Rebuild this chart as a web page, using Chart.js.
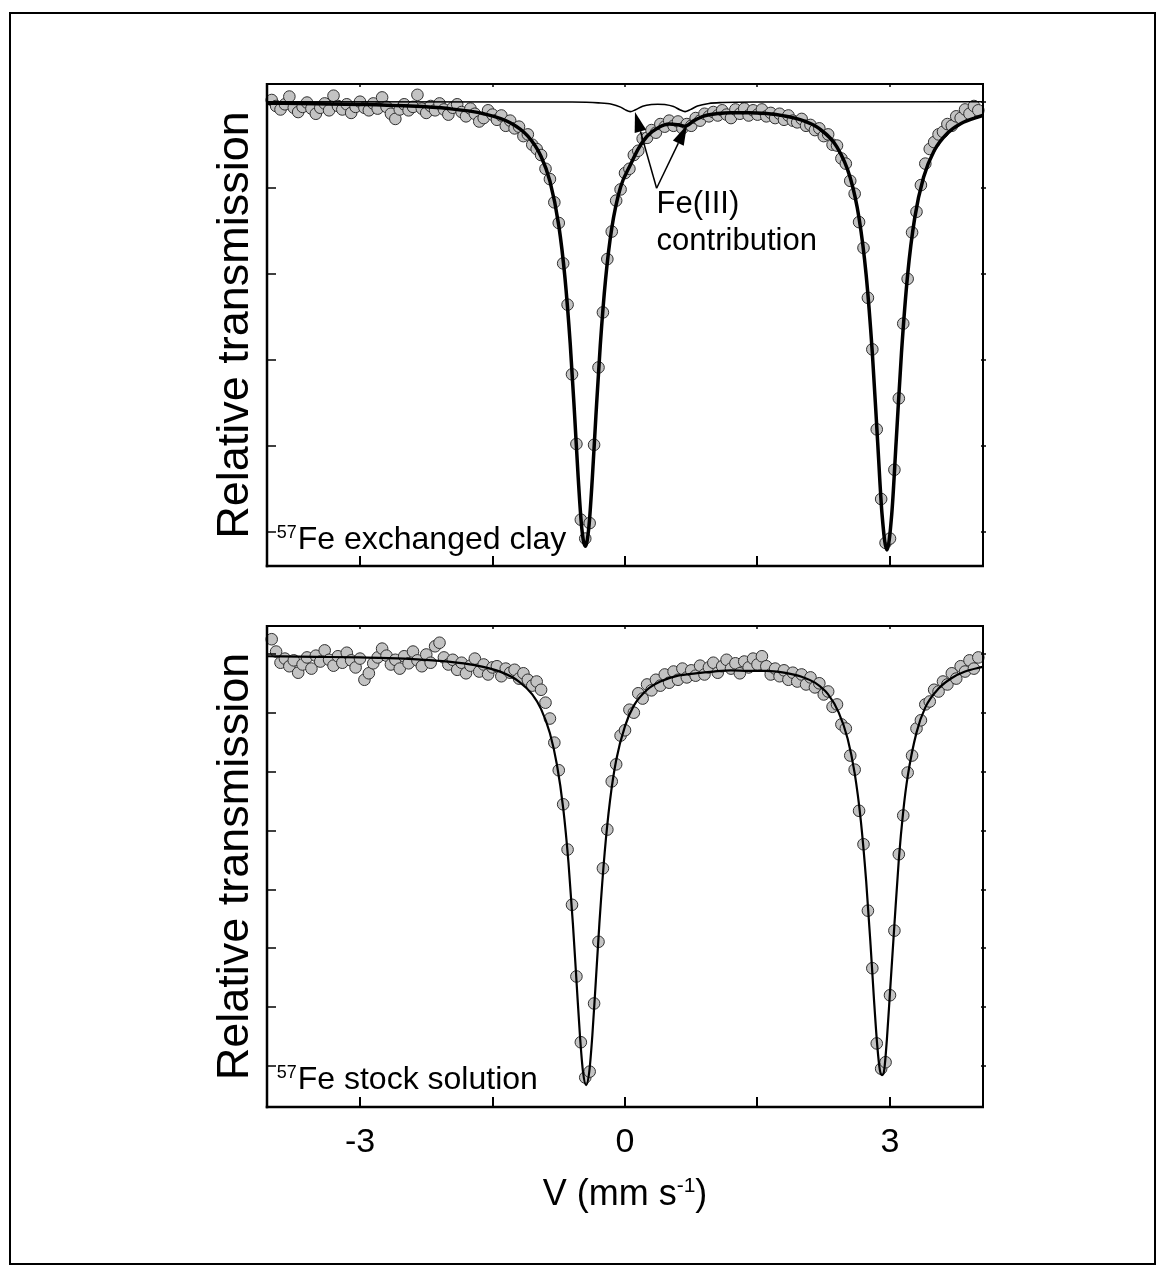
<!DOCTYPE html>
<html>
<head>
<meta charset="utf-8">
<script src="https://cdn.jsdelivr.net/npm/chart.js@4.4.1/dist/chart.umd.min.js"></script>
<style>
  html, body { margin: 0; padding: 0; background: #fff; }
  #page { position: relative; width: 1166px; height: 1276px; }
  #page canvas { position: absolute; left: 0; top: 0; }
  #frame { position: absolute; left: 9px; top: 12px; width: 1147px; height: 1253px; border: 2px solid #000; box-sizing: border-box; }
</style>
</head>
<body>
<div id="page">
  <div id="frame"></div>
  <canvas id="clay" width="1166" height="1276"></canvas>
  <canvas id="stock" width="1166" height="1276"></canvas>
</div>
<script>
const FONT = "'Liberation Sans', Arial, Helvetica, sans-serif";
Chart.defaults.font.family = FONT;
Chart.defaults.color = "#000";

// channel velocities (mm/s)
const velocity = [
  -4, -3.95, -3.9, -3.85, -3.8, -3.75, -3.7, -3.65, -3.6, -3.55,
  -3.5, -3.45, -3.4, -3.35, -3.3, -3.25, -3.2, -3.15, -3.1, -3.05,
  -3, -2.95, -2.9, -2.85, -2.8, -2.75, -2.7, -2.65, -2.6, -2.55,
  -2.5, -2.45, -2.4, -2.35, -2.3, -2.25, -2.2, -2.15, -2.1, -2.05,
  -2, -1.95, -1.9, -1.85, -1.8, -1.75, -1.7, -1.65, -1.6, -1.55,
  -1.5, -1.45, -1.4, -1.35, -1.3, -1.25, -1.2, -1.15, -1.1, -1.05,
  -1, -0.95, -0.9, -0.85, -0.8, -0.75, -0.7, -0.65, -0.6, -0.55,
  -0.5, -0.45, -0.4, -0.35, -0.3, -0.25, -0.2, -0.15, -0.1, -0.05,
  0, 0.05, 0.1, 0.15, 0.2, 0.25, 0.3, 0.35, 0.4, 0.45,
  0.5, 0.55, 0.6, 0.65, 0.7, 0.75, 0.8, 0.85, 0.9, 0.95,
  1, 1.05, 1.1, 1.15, 1.2, 1.25, 1.3, 1.35, 1.4, 1.45,
  1.5, 1.55, 1.6, 1.65, 1.7, 1.75, 1.8, 1.85, 1.9, 1.95,
  2, 2.05, 2.1, 2.15, 2.2, 2.25, 2.3, 2.35, 2.4, 2.45,
  2.5, 2.55, 2.6, 2.65, 2.7, 2.75, 2.8, 2.85, 2.9, 2.95,
  3, 3.05, 3.1, 3.15, 3.2, 3.25, 3.3, 3.35, 3.4, 3.45,
  3.5, 3.55, 3.6, 3.65, 3.7, 3.75, 3.8, 3.85, 3.9, 3.95,
  4
];

// 57Fe exchanged clay: measured transmission (%)
const clayObs = [
  100.02, 99.95, 99.91, 99.97, 100.06, 99.93, 99.88, 99.94, 99.99, 99.92,
  99.86, 99.93, 99.98, 99.90, 100.07, 99.95, 99.91, 99.97, 99.87, 99.94,
  100.00, 99.93, 99.90, 99.98, 99.92, 100.05, 99.94, 99.86, 99.80, 99.91,
  99.97, 99.90, 99.94, 100.08, 99.92, 99.87, 99.95, 99.90, 99.98, 99.91,
  99.85, 99.93, 99.97, 99.88, 99.83, 99.92, 99.86, 99.77, 99.81, 99.90,
  99.85, 99.79, 99.84, 99.72, 99.78, 99.69, 99.71, 99.60, 99.62, 99.50,
  99.45, 99.38, 99.22, 99.10, 98.83, 98.59, 98.12, 97.64, 96.83, 96.02,
  95.14, 94.92, 95.10, 96.01, 96.91, 97.55, 98.17, 98.49, 98.85, 98.98,
  99.17, 99.22, 99.38, 99.43, 99.57, 99.58, 99.67, 99.64, 99.74, 99.71,
  99.78, 99.72, 99.77, 99.69, 99.74, 99.72, 99.81, 99.78, 99.86, 99.83,
  99.88, 99.84, 99.90, 99.85, 99.81, 99.91, 99.86, 99.92, 99.84, 99.90,
  99.85, 99.91, 99.83, 99.87, 99.81, 99.86, 99.79, 99.84, 99.78, 99.76,
  99.80, 99.72, 99.73, 99.67, 99.69, 99.60, 99.62, 99.50, 99.49, 99.34,
  99.28, 99.08, 98.93, 98.60, 98.30, 97.72, 97.12, 96.19, 95.38, 94.87,
  94.92, 95.72, 96.55, 97.42, 97.94, 98.48, 98.72, 99.03, 99.28, 99.45,
  99.53, 99.62, 99.65, 99.74, 99.72, 99.83, 99.81, 99.91, 99.86, 99.95,
  99.90
];

// total fit, clay
const clayFitV = [
  -4.05, -3.5, -3, -2.5, -2, -1.6, -1.3, -1.1, -0.95, -0.85,
  -0.75, -0.68, -0.62, -0.57, -0.53, -0.49, -0.45, -0.41, -0.37, -0.33,
  -0.28, -0.22, -0.15, -0.05, 0.06, 0.15, 0.25, 0.38, 0.5, 0.6,
  0.68, 0.78, 0.9, 1.05, 1.2, 1.4, 1.6, 1.8, 2, 2.2,
  2.4, 2.55, 2.65, 2.73, 2.8, 2.86, 2.91, 2.965, 3.02, 3.07,
  3.13, 3.2, 3.28, 3.38, 3.5, 3.65, 3.8, 4.05
];
const clayFit = [
  99.983, 99.977, 99.968, 99.952, 99.920, 99.860, 99.756, 99.600, 99.364, 99.076,
  98.562, 97.956, 97.183, 96.348, 95.630, 95.047, 94.831, 95.044, 95.622, 96.336,
  97.167, 97.935, 98.529, 99.008, 99.264, 99.453, 99.599, 99.700, 99.741, 99.731,
  99.716, 99.780, 99.836, 99.863, 99.873, 99.873, 99.862, 99.835, 99.785, 99.686,
  99.473, 99.116, 98.645, 97.988, 97.079, 96.048, 95.203, 94.787, 95.205, 96.049,
  97.080, 97.991, 98.649, 99.122, 99.430, 99.633, 99.744, 99.841
];

// Fe(III) sub-spectrum, clay
const fe3FitV = [-4.05, -0.6, -0.3, -0.15, -0.05, 0, 0.06, 0.12, 0.2, 0.3, 0.37, 0.45, 0.55, 0.62, 0.68, 0.74, 0.82, 0.95, 1.1, 1.5, 4.05];
const fe3Fit = [100, 99.996, 99.987, 99.971, 99.937, 99.908, 99.885, 99.907, 99.947, 99.968, 99.971, 99.967, 99.943, 99.907, 99.885, 99.908, 99.950, 99.980, 99.990, 99.996, 100];

// 57Fe stock solution: measured transmission (%)
const stockObs = [
  100.26, 100.05, 99.86, 99.93, 99.80, 99.90, 99.69, 99.83, 99.95, 99.76,
  99.98, 99.88, 100.07, 99.91, 99.81, 99.97, 99.86, 100.03, 99.90, 99.78,
  99.93, 99.57, 99.68, 99.85, 99.95, 100.10, 99.98, 99.83, 99.91, 99.76,
  99.97, 99.85, 100.05, 99.90, 99.80, 100.00, 99.86, 100.14, 100.20, 99.95,
  99.83, 99.91, 99.74, 99.86, 99.68, 99.81, 99.93, 99.71, 99.83, 99.66,
  99.78, 99.80, 99.63, 99.76, 99.69, 99.74, 99.59, 99.68, 99.57, 99.47,
  99.54, 99.40, 99.18, 98.91, 98.50, 98.03, 97.45, 96.68, 95.74, 94.52,
  93.40, 92.80, 92.90, 94.06, 95.11, 96.36, 97.02, 97.84, 98.13, 98.62,
  98.71, 99.06, 99.01, 99.34, 99.25, 99.49, 99.39, 99.57, 99.47, 99.66,
  99.52, 99.71, 99.57, 99.76, 99.61, 99.73, 99.64, 99.81, 99.66, 99.78,
  99.86, 99.69, 99.80, 99.91, 99.76, 99.85, 99.68, 99.88, 99.78, 99.93,
  99.83, 99.97, 99.80, 99.66, 99.76, 99.63, 99.73, 99.57, 99.69, 99.54,
  99.66, 99.49, 99.61, 99.44, 99.51, 99.32, 99.37, 99.11, 99.15, 98.81,
  98.74, 98.28, 98.04, 97.34, 96.77, 95.64, 94.66, 93.38, 92.95, 93.06,
  94.20, 95.30, 96.60, 97.26, 97.99, 98.28, 98.74, 98.88, 99.15, 99.20,
  99.40, 99.37, 99.54, 99.49, 99.68, 99.59, 99.80, 99.71, 99.90, 99.76,
  99.95
];

const stockFitV = [
  -4.05, -3.5, -3, -2.5, -2, -1.7, -1.4, -1.2, -1.05, -0.95,
  -0.85, -0.77, -0.7, -0.64, -0.59, -0.55, -0.51, -0.475, -0.44, -0.405,
  -0.37, -0.33, -0.29, -0.23, -0.17, -0.1, 0, 0.1, 0.25, 0.4,
  0.6, 0.8, 1, 1.2, 1.4, 1.6, 1.8, 2, 2.15, 2.3,
  2.42, 2.52, 2.6, 2.67, 2.73, 2.78, 2.82, 2.855, 2.885, 2.91,
  2.935, 2.965, 3, 3.05, 3.1, 3.15, 3.2, 3.3, 3.4, 3.55,
  3.7, 3.85, 4.05
];
const stockFit = [
  99.97, 99.96, 99.95, 99.93, 99.88, 99.82, 99.70, 99.54, 99.32, 99.07,
  98.66, 98.12, 97.39, 96.46, 95.42, 94.46, 93.51, 92.89, 92.67, 92.89,
  93.51, 94.45, 95.42, 96.63, 97.51, 98.20, 98.78, 99.13, 99.40, 99.54,
  99.64, 99.68, 99.71, 99.73, 99.72, 99.72, 99.69, 99.62, 99.52, 99.32,
  99.01, 98.57, 97.98, 97.17, 96.15, 95.06, 94.10, 93.36, 92.93, 92.84,
  92.93, 93.45, 94.25, 95.40, 96.51, 97.33, 97.92, 98.67, 99.10, 99.42,
  99.60, 99.71, 99.79
];

const xTicks = [-3, -1.5, 0, 1.5, 3];
const xLabelled = [-3, 0, 3];
const clayTicks = [95, 96, 97, 98, 99, 100];
const stockTicks = [93, 94, 95, 96, 97, 98, 99, 100];
const xRange = [-4.053, 4.053];
const clayRange = [94.601, 100.206];
const stockRange = [92.298, 100.485];

const yTitle = "Relative transmission";
const xTitle = ["V (mm s", "-1", ")"];
const clayNote = { v: -3.943, t: 94.795, sup: "57", text: "Fe exchanged clay" };
const stockNote = { v: -3.943, t: 92.599, sup: "57", text: "Fe stock solution" };
const fe3Label = [["Fe(III)", 0.358, 98.702], ["contribution", 0.358, 98.276]];
const fe3Arrows = [
  { from: [0.358, 98.994], to: [0.113, 99.880] },
  { from: [0.358, 98.994], to: [0.702, 99.728] },
];

const pts = (xs, ys) => xs.map((x, i) => ({ x, y: ys[i] }));

function supText(ctx, x, y, sup, main) {
  ctx.textAlign = "left";
  ctx.textBaseline = "alphabetic";
  ctx.font = `18px ${FONT}`;
  ctx.fillText(sup, x, y - 11.6);
  const w = ctx.measureText(sup).width;
  ctx.font = `32px ${FONT}`;
  ctx.fillText(main, x + w + 1, y);
}

function arrow(ctx, x1, y1, x2, y2) {
  const ang = Math.atan2(y2 - y1, x2 - x1);
  const len = 20, half = 6;
  const bx = x2 - len * Math.cos(ang), by = y2 - len * Math.sin(ang);
  ctx.lineWidth = 1.5;
  ctx.beginPath(); ctx.moveTo(x1, y1); ctx.lineTo(bx, by); ctx.stroke();
  ctx.beginPath();
  ctx.moveTo(x2, y2);
  ctx.lineTo(bx + half * Math.sin(ang), by - half * Math.cos(ang));
  ctx.lineTo(bx - half * Math.sin(ang), by + half * Math.cos(ang));
  ctx.closePath();
  ctx.fill();
}

const decor = {
  id: "decor",
  afterDatasetsDraw(chart, args, opts) {
    const { ctx, chartArea: a, scales: { x, y } } = chart;
    ctx.save();
    ctx.strokeStyle = "#000";
    ctx.fillStyle = "#000";
    const seg = (x1, y1, x2, y2, w) => {
      ctx.lineWidth = w;
      ctx.beginPath(); ctx.moveTo(x1, y1); ctx.lineTo(x2, y2); ctx.stroke();
    };
    x.ticks.forEach(t => {
      const px = Math.round(x.getPixelForValue(t.value));
      seg(px, a.bottom, px, a.bottom - 10, 2);
      seg(px, a.top, px, a.top + 3, 1.5);
    });
    y.ticks.forEach(t => {
      const py = Math.round(y.getPixelForValue(t.value));
      seg(a.left, py, a.left + 9, py, 1.5);
      seg(a.right - 2, py, a.right + 3, py, 1.5);
    });
    seg(a.left, a.top, a.right + 1, a.top, 2);
    seg(a.right, a.top, a.right, a.bottom, 2);
    seg(a.left, a.top - 1, a.left, a.bottom + 1.25, 2.5);
    seg(a.left - 1.25, a.bottom, a.right + 1, a.bottom, 2.5);

    const n = opts.note;
    supText(ctx, x.getPixelForValue(n.v), y.getPixelForValue(n.t), n.sup, n.text);

    if (opts.fe3) {
      ctx.font = `31px ${FONT}`;
      fe3Label.forEach(([txt, v, t]) => ctx.fillText(txt, x.getPixelForValue(v), y.getPixelForValue(t)));
      fe3Arrows.forEach(ar => arrow(ctx,
        x.getPixelForValue(ar.from[0]), y.getPixelForValue(ar.from[1]),
        x.getPixelForValue(ar.to[0]), y.getPixelForValue(ar.to[1])));
    }

    if (opts.xTitle) {
      const cx = (a.left + a.right) / 2;
      const base = a.bottom + 98;
      const [pre, sup, post] = xTitle;
      ctx.font = `36px ${FONT}`;
      const w1 = ctx.measureText(pre).width;
      const w3 = ctx.measureText(post).width;
      ctx.font = `21px ${FONT}`;
      const w2 = ctx.measureText(sup).width;
      const x0 = cx - (w1 + w2 + w3) / 2;
      ctx.textAlign = "left";
      ctx.textBaseline = "alphabetic";
      ctx.font = `36px ${FONT}`; ctx.fillText(pre, x0, base);
      ctx.font = `21px ${FONT}`; ctx.fillText(sup, x0 + w1, base - 13);
      ctx.font = `36px ${FONT}`; ctx.fillText(post, x0 + w1 + w2, base);
    }
    ctx.restore();
  }
};

function obsSet(ys) {
  return {
    data: pts(velocity, ys), showLine: false, order: 3, clip: false,
    pointRadius: 5.8, pointBackgroundColor: "#c3c3c3", pointBorderColor: "#2f2f2f", pointBorderWidth: 1,
  };
}
function lineSet(xs, ys, width, order) {
  return {
    data: pts(xs, ys), showLine: true, order, pointRadius: 0, borderColor: "#000",
    borderWidth: width, cubicInterpolationMode: "monotone", fill: false,
  };
}

function makeChart(id, cfg) {
  return new Chart(document.getElementById(id), {
    type: "scatter",
    data: { datasets: cfg.datasets },
    options: {
      responsive: false,
      animation: false,
      events: [],
      layout: { padding: cfg.padding },
      plugins: { legend: { display: false }, tooltip: { enabled: false }, decor: cfg.decor },
      scales: {
        x: {
          type: "linear", min: xRange[0], max: xRange[1],
          afterBuildTicks: s => { s.ticks = xTicks.map(v => ({ value: v })); },
          afterFit: s => { s.height = cfg.xAxisHeight; },
          grid: { display: false, drawTicks: false },
          border: { display: false },
          ticks: {
            display: cfg.xLabels, padding: 15, color: "#000", font: { size: 34 },
            autoSkip: false, maxRotation: 0,
            callback: v => (xLabelled.includes(v) ? String(v) : ""),
          },
        },
        y: {
          type: "linear", min: cfg.range[0], max: cfg.range[1],
          afterBuildTicks: s => { s.ticks = cfg.ticks.map(v => ({ value: v })); },
          afterFit: s => { s.width = 267; },
          grid: { display: false, drawTicks: false },
          border: { display: false },
          ticks: { display: false },
          title: {
            display: true, text: yTitle, color: "#000", font: { size: 45 },
            padding: { top: 209, bottom: 0 },
          },
        },
      },
    },
    plugins: [decor],
  });
}

makeChart("clay", {
  datasets: [
    lineSet(clayFitV, clayFit, 3.5, 1),
    lineSet(fe3FitV, fe3Fit, 1.6, 2),
    obsSet(clayObs),
  ],
  padding: { left: 0, top: 84, right: 183, bottom: 710 },
  xAxisHeight: 0,
  range: clayRange,
  ticks: clayTicks,
  xLabels: false,
  decor: { note: clayNote, fe3: true, xTitle: false },
});

makeChart("stock", {
  datasets: [
    lineSet(stockFitV, stockFit, 2.2, 1),
    obsSet(stockObs),
  ],
  padding: { left: 0, top: 626, right: 183, bottom: 109 },
  xAxisHeight: 60,
  range: stockRange,
  ticks: stockTicks,
  xLabels: true,
  decor: { note: stockNote, fe3: false, xTitle: true },
});
</script>
</body>
</html>
